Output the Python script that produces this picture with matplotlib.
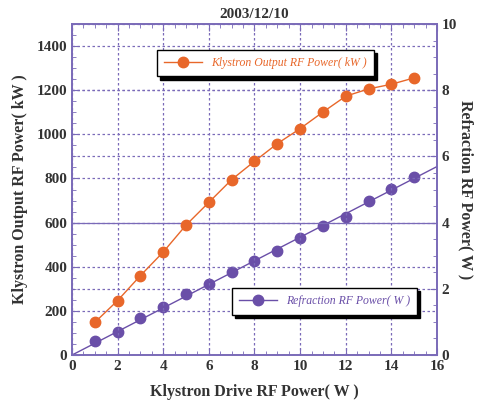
import numpy as np
import matplotlib
matplotlib.use('Agg')
import matplotlib.pyplot as plt
from matplotlib.ticker import MultipleLocator

drive = [1, 2, 3, 4, 5, 6, 7, 8, 9, 10, 11, 12, 13, 14, 15]
output_kw = [148, 247, 360, 467, 589, 692, 795, 878, 958, 1026, 1101, 1173, 1206, 1227, 1256]
refl_w = [0.41, 0.70, 1.11, 1.45, 1.83, 2.16, 2.52, 2.83, 3.15, 3.54, 3.90, 4.18, 4.64, 5.02, 5.37]

orange = '#E8672A'
purple = '#6A4FA8'
spine = '#7A6AB8'
txt = '#333333'
serif = ['Liberation Serif', 'DejaVu Serif']

plt.rcParams['font.family'] = serif

fig = plt.figure(figsize=(4.81, 4.03), dpi=100)
ax = fig.add_axes([0.1497, 0.119, 0.7588, 0.8214])
ax2 = ax.twinx()

ax2.set_facecolor('#FBF9E9')
ax.set_zorder(ax2.get_zorder() + 1)
ax.patch.set_visible(False)

ax.set_xlim(0, 16)
ax.set_ylim(0, 1500)
ax2.set_ylim(0, 10)

ax.xaxis.set_major_locator(MultipleLocator(2))
ax.xaxis.set_minor_locator(MultipleLocator(0.5))
ax.yaxis.set_major_locator(MultipleLocator(200))
ax.yaxis.set_minor_locator(MultipleLocator(50))
ax2.yaxis.set_major_locator(MultipleLocator(2))
ax2.yaxis.set_minor_locator(MultipleLocator(0.5))

ax.grid(True, which='major', color=spine, linestyle=(0, (2, 2)), linewidth=0.9)
ax2.grid(True, which='major', axis='y', color=spine, linestyle=(0, (2, 2)), linewidth=0.9)
# the 600 kW / 4 W line shows solid in the original
for g, t in zip(ax.get_ygridlines(), ax.get_yticks()):
    if t == 600:
        g.set_linestyle('-')

# purple: straight fit through origin, plotted across the whole range
k = np.sum(np.array(drive) * np.array(refl_w)) / np.sum(np.array(drive) ** 2)
xf = np.array([0, 16])
ax2.plot(xf, k * xf, color=purple, linewidth=1.0, zorder=3)
ax2.plot(drive, refl_w, color=purple, linestyle='none', marker='o',
         markersize=7.5, zorder=4)
l2, = ax2.plot([], [], color=purple, linewidth=1.0, marker='o', markersize=7.5,
               label='Refraction RF Power( W )')

l1, = ax.plot(drive, output_kw, color=orange, linewidth=1.0, marker='o',
              markersize=7.5, zorder=4, label='Klystron Output RF Power( kW )')

for a in (ax, ax2):
    for s in a.spines.values():
        s.set_color(spine)
        s.set_linewidth(1.2)

ax.tick_params(which='both', direction='in', color=spine, top=True,
               labelcolor=txt, labelsize=11)
ax.tick_params(which='major', length=5)
ax.tick_params(which='minor', length=3)
ax2.tick_params(which='both', direction='in', color=spine,
                labelcolor=txt, labelsize=11)
ax2.tick_params(which='major', length=5)
ax2.tick_params(which='minor', length=3)
for lab in ax.get_xticklabels() + ax.get_yticklabels() + ax2.get_yticklabels():
    lab.set_fontweight('bold')

ax.set_xlabel('Klystron Drive RF Power( W )', fontsize=11.5, fontweight='bold', color=txt, labelpad=8)
ax.set_ylabel('Klystron Output RF Power( kW )', fontsize=11.5, fontweight='bold', color=txt, labelpad=6)
ax2.set_ylabel('Refraction RF Power( W )', fontsize=11.5, fontweight='bold', color=txt,
               rotation=270, labelpad=12)
ax.set_title('2003/12/10', fontsize=11, fontweight='bold', color=txt, pad=4)

shadow = {'color': 'black', 'alpha': 1, 'ox': 2.2, 'oy': -2.2}
legprop = {'family': serif, 'style': 'italic', 'size': 8.5}
leg1 = ax.legend(handles=[l1], loc='center', bbox_to_anchor=(0.531, 0.881),
                 frameon=True, fancybox=False, shadow=shadow, edgecolor='black',
                 framealpha=1, prop=legprop, labelcolor=orange,
                 handlelength=3.2, borderpad=0.6)
leg1.get_frame().set_linewidth(1.0)
leg2 = ax.legend(handles=[l2], loc='center', bbox_to_anchor=(0.692, 0.162),
                 frameon=True, fancybox=False, shadow=shadow, edgecolor='black',
                 framealpha=1, prop=legprop, labelcolor=purple,
                 handlelength=3.2, borderpad=0.6)
leg2.get_frame().set_linewidth(1.0)
ax.add_artist(leg1)

plt.savefig('out.png', dpi=100)
